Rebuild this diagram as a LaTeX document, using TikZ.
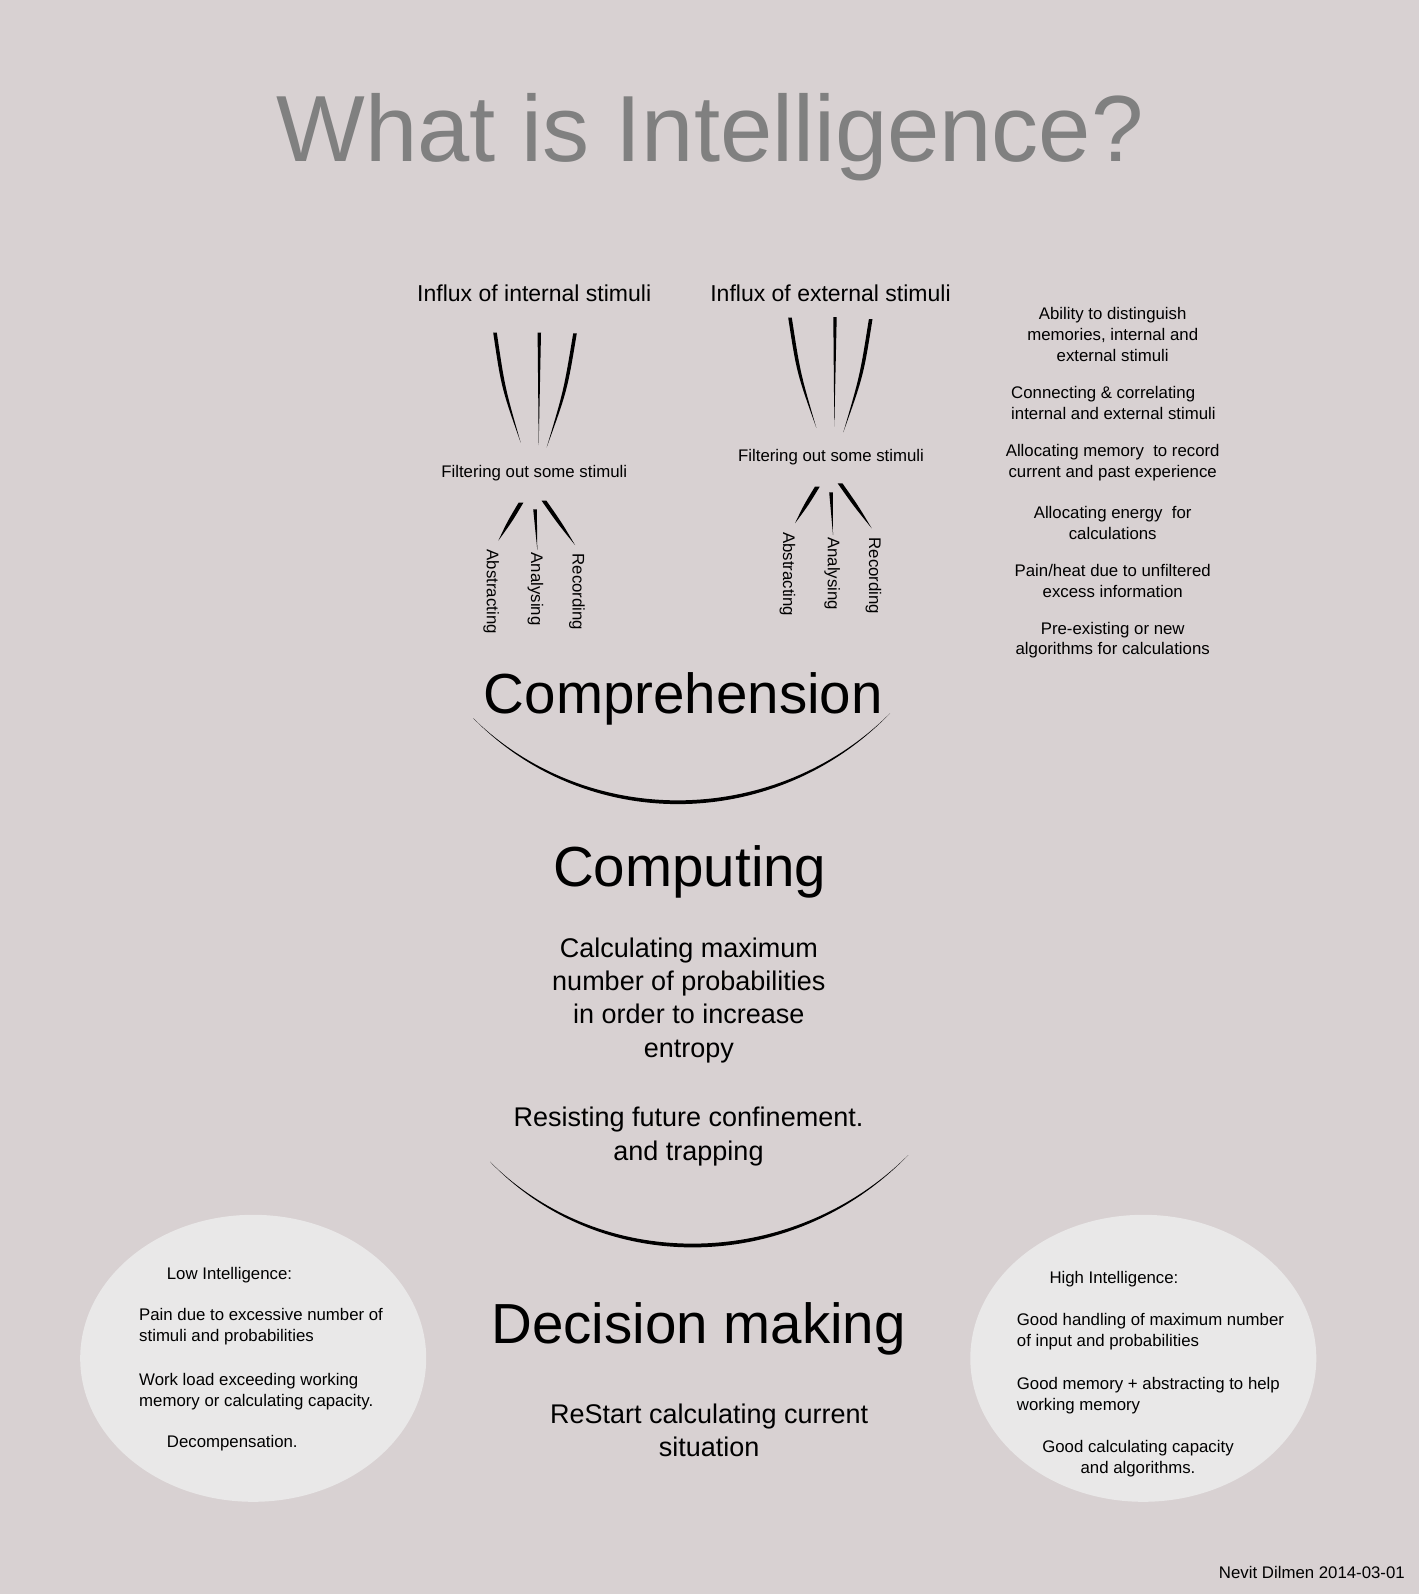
\documentclass[tikz,border=0pt]{standalone}
\usepackage{fontspec}
\setmainfont{Liberation Sans}
\usetikzlibrary{calc,shapes.geometric}

\definecolor{paper}{RGB}{216,209,210}
\definecolor{bubble}{RGB}{233,232,232}
\definecolor{titlegray}{RGB}{128,128,128}

% tapered stroke: top, tip, bend, half width at top
\newcommand{\spike}[4]{%
  \fill ($#1+(-#4,0)$) .. controls ($#1!.5!#2+(#3-#4,0)$) .. #2
    .. controls ($#1!.5!#2+(#3+#4,0)$) .. ($#1+(#4,0)$) -- cycle;}

\begin{document}
\begin{tikzpicture}[x=1pt, y=-1pt,
    title/.style={font=\fontsize{94}{94}\selectfont, text=titlegray, inner sep=0pt, anchor=base},
    heading/.style={font=\fontsize{56.5}{60}\selectfont, inner sep=0pt, anchor=base},
    body/.style={font=\fontsize{27}{33.3}\selectfont, align=center, inner sep=0pt, anchor=base},
    influx/.style={font=\fontsize{23}{28}\selectfont, inner sep=0pt, anchor=base},
    note/.style={font=\fontsize{16.8}{20.8}\selectfont, inner sep=0pt, anchor=base},
    branch/.style={note, rotate=-90, anchor=west},
    bubblenode/.style={ellipse, fill=bubble, minimum width=346pt, minimum height=287pt, inner sep=0pt}]

    % Nền
    \path[use as bounding box, fill=paper] (0,0) rectangle (1419,1594);

    % Tiêu đề
    \node[title] (title) at (710,162) {What is Intelligence?};

    % Kích thích vào
    \node[influx] (intin) at (534.2,301.9) {Influx of internal stimuli};
    \node[influx] (extin) at (830.5,301.9) {Influx of external stimuli};
    \node[note] (intfilter) at (534.2,477.3) {Filtering out some stimuli};
    \node[note] (extfilter) at (831,461.7) {Filtering out some stimuli};

    % Nhánh
    \node[branch] (intabs) at (491.2,549.5) {Abstracting};
    \node[branch] (intana) at (535.5,552.5) {Analysing};
    \node[branch] (intrec) at (577,553.5) {Recording};
    \node[branch] (extabs) at (787.5,532) {Abstracting};
    \node[branch] (extana) at (832.3,537) {Analysing};
    \node[branch] (extrec) at (873.5,537.5) {Recording};

    % Nét thon (dòng multi-line: base = dòng cuối)
    \spike{(495,332.7)}{(520.7,442.7)}{-4.7}{1.8}
    \spike{(539.3,332.7)}{(538.7,445)}{0}{1.7}
    \spike{(575,333.3)}{(546.7,447.3)}{4.7}{1.8}
    \spike{(521,502.7)}{(498.3,540.7)}{0}{2.4}
    \spike{(535,509.3)}{(537.3,550)}{0}{1.8}
    \spike{(544,500.7)}{(575,545)}{0}{2.4}
    \spike{(790,317.7)}{(816.3,427.7)}{-4.7}{1.8}
    \spike{(835,317)}{(834.3,426.7)}{0}{1.7}
    \spike{(870.7,319)}{(843.3,432.3)}{4.7}{1.8}
    \spike{(817.3,486.7)}{(795,523.3)}{0}{2.4}
    \spike{(831,492.3)}{(833,535)}{0}{1.8}
    \spike{(840,483.3)}{(871.7,528.3)}{0}{2.4}

    % Cột phải
    \node[note, align=center] (distinguish) at (1112.7,361.3) {Ability to distinguish\\memories, internal and\\external stimuli};
    \node[note, align=left, anchor=base west] (connect) at (1011,419.1) {Connecting \& correlating\\internal and external stimuli};
    \node[note, align=center] (memory) at (1112.7,477.5) {Allocating memory\ \ to record\\current and past experience};
    \node[note, align=center] (energy) at (1112.7,539.1) {Allocating energy\ \ for\\calculations};
    \node[note, align=center] (pain) at (1112.7,597.5) {Pain/heat due to unfiltered\\excess information};
    \node[note, align=center] (algo) at (1112.7,654.8) {Pre-existing or new\\algorithms for calculations};

    % Giữa
    \node[heading] (compr) at (683.3,713.3) {Comprehension};
    \fill (473.3,718.3) .. controls (587.5,835) and (776,832) .. (890,713.3)
        .. controls (776,827) and (587.5,830) .. cycle;
    \node[heading] (comput) at (689.8,886.7) {Computing};
    \node[body] (calc) at (688.8,1057.2) {Calculating maximum\\number of probabilities\\in order to increase\\entropy};
    \node[body] (resist) at (688.5,1160) {Resisting future confinement.\\and trapping};
    \fill (490,1161.7) .. controls (604,1280.3) and (794.3,1273.6) .. (908.3,1155)
        .. controls (794.3,1268.6) and (604,1275.3) .. cycle;
    \node[heading] (decide) at (698.7,1343.3) {Decision making};
    \node[body] (restart) at (709.2,1456.7) {ReStart calculating current\\situation};

    % Hai bong bóng
    \node[bubblenode] (lowbubble) at (253.2,1358.3) {};
    \node[bubblenode] (highbubble) at (1143.3,1358.3) {};
    \node[note, anchor=base west] (lowhead) at (166.7,1279.3) {Low Intelligence:};
    \node[note, align=left, anchor=base west] (lowpain) at (139,1341.7) {Pain due to excessive number of\\stimuli and probabilities};
    \node[note, align=left, anchor=base west] (lowwork) at (139,1406.3) {Work load exceeding working\\memory or calculating capacity.};
    \node[note, anchor=base west] (lowdecomp) at (166.7,1447.5) {Decompensation.};
    \node[note, anchor=base west] (highhead) at (1049.3,1283.3) {High Intelligence:};
    \node[note, align=left, anchor=base west] (highinput) at (1016.7,1346.5) {Good handling of maximum number\\of input and probabilities};
    \node[note, align=left, anchor=base west] (highmem) at (1016.7,1410.3) {Good memory + abstracting to help\\working memory};
    \node[note, align=center] (highcalc) at (1138,1473.7) {Good calculating capacity\\and algorithms.};

    % Tác giả
    \node[note, anchor=base east] (author) at (1405,1578.3) {Nevit Dilmen 2014-03-01};

\end{tikzpicture}
\end{document}
